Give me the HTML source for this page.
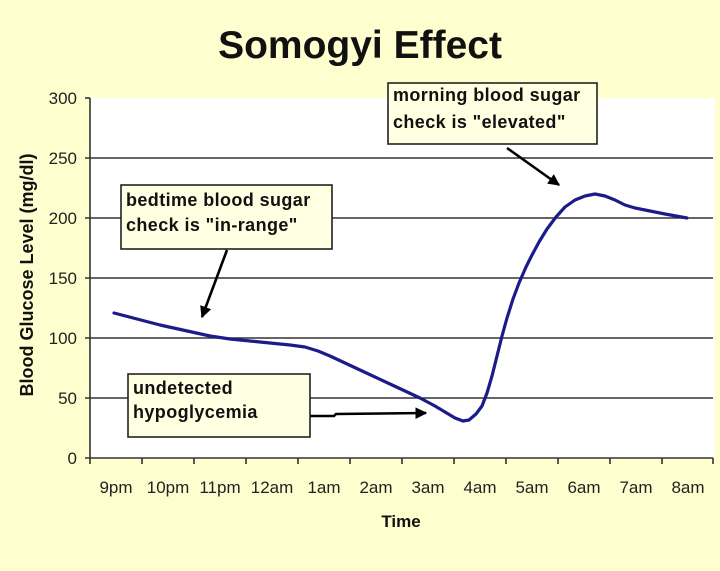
<!DOCTYPE html>
<html><head><meta charset="utf-8"><style>
html,body{margin:0;padding:0;background:#FFFECE;}
svg{display:block;}
text{font-family:"Liberation Sans",Arial,sans-serif;}
</style></head><body>
<svg width="720" height="571" viewBox="0 0 720 571" xmlns="http://www.w3.org/2000/svg">
<defs>
<marker id="ah" viewBox="0 0 10 10" refX="9" refY="5" markerWidth="4.5" markerHeight="4.5" orient="auto" markerUnits="strokeWidth">
<path d="M0,0 L10,5 L0,10 z" fill="#000"/>
</marker>
</defs>
<rect width="720" height="571" fill="#FFFECE"/>
<text x="360" y="58" font-size="39" font-weight="bold" text-anchor="middle" fill="#111">Somogyi Effect</text>
<rect x="90" y="98" width="625" height="360" fill="#fff"/>
<g stroke="#333" stroke-width="1.6">
<line x1="85" y1="158" x2="713" y2="158"/>
<line x1="85" y1="218" x2="713" y2="218"/>
<line x1="85" y1="278" x2="713" y2="278"/>
<line x1="85" y1="338" x2="713" y2="338"/>
<line x1="85" y1="398" x2="713" y2="398"/>
<line x1="85" y1="98" x2="90" y2="98"/>
<line x1="85" y1="458" x2="713" y2="458"/>
<line x1="90" y1="98" x2="90" y2="464"/>
</g>
<g stroke="#333" stroke-width="1.6">
<line x1="142" y1="458" x2="142" y2="464"/>
<line x1="194" y1="458" x2="194" y2="464"/>
<line x1="246" y1="458" x2="246" y2="464"/>
<line x1="298" y1="458" x2="298" y2="464"/>
<line x1="350" y1="458" x2="350" y2="464"/>
<line x1="402" y1="458" x2="402" y2="464"/>
<line x1="454" y1="458" x2="454" y2="464"/>
<line x1="506" y1="458" x2="506" y2="464"/>
<line x1="558" y1="458" x2="558" y2="464"/>
<line x1="610" y1="458" x2="610" y2="464"/>
<line x1="662" y1="458" x2="662" y2="464"/>
<line x1="713" y1="458" x2="713" y2="464"/>
</g>
<g font-size="17" fill="#222" text-anchor="end">
<text x="77" y="104">300</text>
<text x="77" y="164">250</text>
<text x="77" y="224">200</text>
<text x="77" y="284">150</text>
<text x="77" y="344">100</text>
<text x="77" y="404">50</text>
<text x="77" y="464">0</text>
</g>
<g font-size="17" fill="#222" text-anchor="middle">
<text x="116" y="493">9pm</text>
<text x="168" y="493">10pm</text>
<text x="220" y="493">11pm</text>
<text x="272" y="493">12am</text>
<text x="324" y="493">1am</text>
<text x="376" y="493">2am</text>
<text x="428" y="493">3am</text>
<text x="480" y="493">4am</text>
<text x="532" y="493">5am</text>
<text x="584" y="493">6am</text>
<text x="636" y="493">7am</text>
<text x="688" y="493">8am</text>
</g>
<text x="401" y="527" font-size="17" font-weight="bold" text-anchor="middle" fill="#111">Time</text>
<text transform="translate(33,275) rotate(-90)" font-size="18" font-weight="bold" text-anchor="middle" fill="#111">Blood Glucose Level (mg/dl)</text>
<path d="M114,313 L160,325 L210,336 L230,339 L260,342 L290,345 L305,347 L318,351 L330,356 L345,363 L360,370 L390,384 L420,398 L435,406 L445,412 L455,418 L463,421 L469,420 L476,414 L482,406 L487,393 L492,376 L497,356 L502,336 L507,318 L513,299 L519,283 L526,267 L532,255 L539,242 L547,229 L556,217 L565,207 L575,200 L585,196 L595,194 L605,196 L615,200 L625,205 L635,208 L650,211 L665,214 L687,218" fill="none" stroke="#1B1B8A" stroke-width="3.2" stroke-linejoin="round" stroke-linecap="round"/>
<g fill="#FFFFE2" stroke="#222" stroke-width="1.6">
<rect x="121" y="185" width="211" height="64"/>
<rect x="388" y="83" width="209" height="61"/>
<rect x="128" y="374" width="182" height="63"/>
</g>
<g font-size="18" font-weight="bold" fill="#111" letter-spacing="0.4">
<text x="126" y="206">bedtime blood sugar</text>
<text x="126" y="231">check is "in-range"</text>
<text x="393" y="101">morning blood sugar</text>
<text x="393" y="128">check is "elevated"</text>
<text x="133" y="394">undetected</text>
<text x="133" y="418">hypoglycemia</text>
</g>
<g stroke="#000" stroke-width="2.6" fill="none">
<line x1="227" y1="250" x2="202" y2="317" marker-end="url(#ah)"/>
<line x1="507" y1="148" x2="559" y2="185" marker-end="url(#ah)"/>
<polyline points="310,416 334,416 336,414 426,413" marker-end="url(#ah)"/>
</g>
</svg>
</body></html>
